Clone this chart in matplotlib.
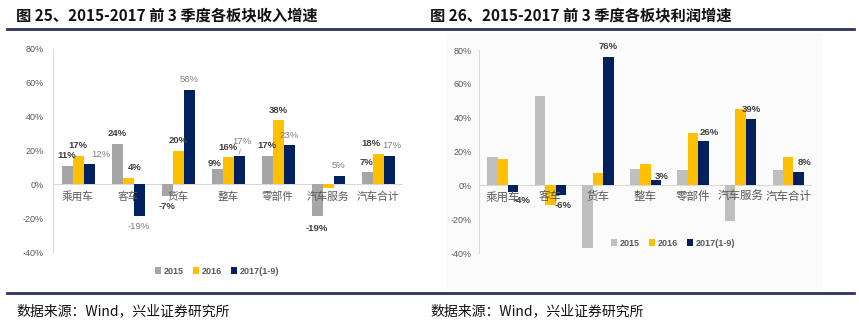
import matplotlib
matplotlib.use('Agg')
import matplotlib.pyplot as plt
from matplotlib.lines import Line2D
from matplotlib.patches import Rectangle

plt.rcParams['font.family'] = ['Liberation Sans', 'Noto Sans CJK SC', 'DejaVu Sans']

categories = ['乘用车', '客车', '货车', '整车', '零部件', '汽车服务', '汽车合计']
series = ['2015', '2016', '2017(1-9)']

# revenue growth, %
rev_2015 = [11, 24, -7, 9, 17, -19, 7]
rev_2016 = [17, 4, 20, 16, 38, -2, 18]
rev_2017 = [12, -19, 56, 17, 23, 5, 17]

# profit growth, %
prof_2015 = [16.5, 53, -37, 9.5, 9, -21, 9]
prof_2016 = [15.5, -11.5, 7.5, 12.8, 31, 45, 16.6]
prof_2017 = [-4, -6, 76, 3, 26, 39, 8]

title_left = '图 25、2015-2017 前 3 季度各板块收入增速'
title_right = '图 26、2015-2017 前 3 季度各板块利润增速'
source = '数据来源：Wind，兴业证券研究所'

W, H = 859, 323
NAVY = '#002060'
GOLD = '#ffc000'
LINE = '#2f3163'
TXT = '#595959'

fig = plt.figure(figsize=(W / 100, H / 100), dpi=100)


def fx(px):
    return px / W


def fy(py):
    return 1 - py / H


def draw_chart(rect, vals, gray, show, styles, nudges, default_off, tick_pad, cat_size, leg_xy, leaders=()):
    ax = fig.add_axes(rect)
    ax.set_facecolor('none')
    colors = [gray, GOLD, NAVY]
    width = 0.22
    handles = []
    for k, v in enumerate(vals):
        xs = [i + (k - 1) * width for i in range(len(categories))]
        b = ax.bar(xs, v, width=width, color=colors[k], zorder=2, label=series[k])
        handles.append(b)
        if not show[k]:
            continue
        color, weight = styles[k]
        for i, val in enumerate(v):
            if i not in show[k]:
                continue
            dx, dy = nudges.get((k, i), default_off)
            if val < 0 and (k, i) not in nudges:
                dy = -abs(dy)
            kw = {}
            if (k, i) in leaders:
                kw['arrowprops'] = dict(arrowstyle='-', color='#a6a6a6', lw=0.6, shrinkA=5, shrinkB=1)
            ax.annotate(f'{round(val)}%', xy=(xs[i], val), xytext=(dx, dy),
                        textcoords='offset pixels', ha='center', va='center',
                        fontsize=6.8, color=color, fontweight=weight, zorder=4, **kw)
    for i, c in enumerate(categories):
        ax.annotate(c, xy=(i, 0), xytext=(0, -12), textcoords='offset pixels',
                    ha='center', va='center', fontsize=cat_size, color=TXT, zorder=5)
    ax.set_xlim(-0.5, len(categories) - 0.5)
    ax.set_ylim(-40, 80)
    ax.set_yticks(range(-40, 81, 20))
    ax.set_yticklabels([f'{t}%' for t in range(-40, 81, 20)])
    ax.tick_params(axis='y', length=0, labelsize=6.5, labelcolor=TXT, pad=tick_pad)
    ax.set_xticks([])
    for s in ['top', 'right', 'bottom']:
        ax.spines[s].set_visible(False)
    ax.spines['left'].set_color('#d9d9d9')
    ax.spines['left'].set_linewidth(0.8)
    ax.axhline(0, color='#d9d9d9', lw=0.8, zorder=1)
    ax.legend(handles=handles, loc='center', bbox_to_anchor=(fx(leg_xy[0]), fy(leg_xy[1])),
              bbox_transform=fig.transFigure, ncol=3, frameon=False,
              handlelength=0.7, handleheight=0.7, columnspacing=1.0, handletextpad=0.3,
              prop={'size': 6.5, 'weight': 'bold'}, labelcolor=TXT)
    return ax


# faint backdrop of the right picture
fig.add_artist(Rectangle((fx(447), fy(290)), fx(823) - fx(447), fy(33) - fy(290),
                         transform=fig.transFigure, color='#fbfbfb', zorder=0, lw=0))

# left chart
left_show = [set(range(7)), {0, 1, 2, 3, 4, 6}, set(range(7))]
left_styles = [('#404040', 'bold'), ('#404040', 'bold'), ('#7f7f7f', 'normal')]
left_nudges = {(2, 0): (12, 10), (1, 1): (7, 10), (0, 3): (-2, 6), (2, 3): (3, 14),
               (1, 6): (-7, 10), (2, 6): (3, 10), (0, 5): (0, -12)}
draw_chart([fx(53), fy(252), fx(403) - fx(53), fy(49) - fy(252)],
           [rev_2015, rev_2016, rev_2017], '#a6a6a6', left_show, left_styles,
           left_nudges, (0, 10), 6.5, 7.7, (217, 271), leaders={(2, 3)})

# right chart
right_show = [None, None, set(range(7))]
right_styles = [None, None, ('#404040', 'bold')]
right_nudges = {(2, 0): (9, -8), (2, 1): (2, -10), (2, 2): (0, 10), (2, 3): (6, 4),
                (2, 5): (0, 10)}
draw_chart([fx(479), fy(253), fx(812) - fx(479), fy(50) - fy(253)],
           [prof_2015, prof_2016, prof_2017], '#bfbfbf', right_show, right_styles,
           right_nudges, (6, 9), 5, 8.3, (673, 243))

# titles, rules and source lines
for x0, t in [(16, title_left), (430, title_right)]:
    fig.text(fx(x0), fy(15), t, fontsize=11, fontweight='bold', va='center', ha='left',
             family=['Noto Sans CJK SC', 'DejaVu Sans'], color='#111111')
    fig.text(fx(x0), fy(311.5), source, fontsize=10, va='center', ha='left',
             family=['Noto Sans CJK SC', 'DejaVu Sans'], color='#111111')
fig.add_artist(Line2D([fx(7), fx(854)], [fy(28.7)] * 2, color=LINE, lw=2, transform=fig.transFigure))
fig.add_artist(Line2D([fx(7), fx(854)], [fy(293.3)] * 2, color=LINE, lw=2, transform=fig.transFigure))

fig.savefig('out.png', dpi=100)
